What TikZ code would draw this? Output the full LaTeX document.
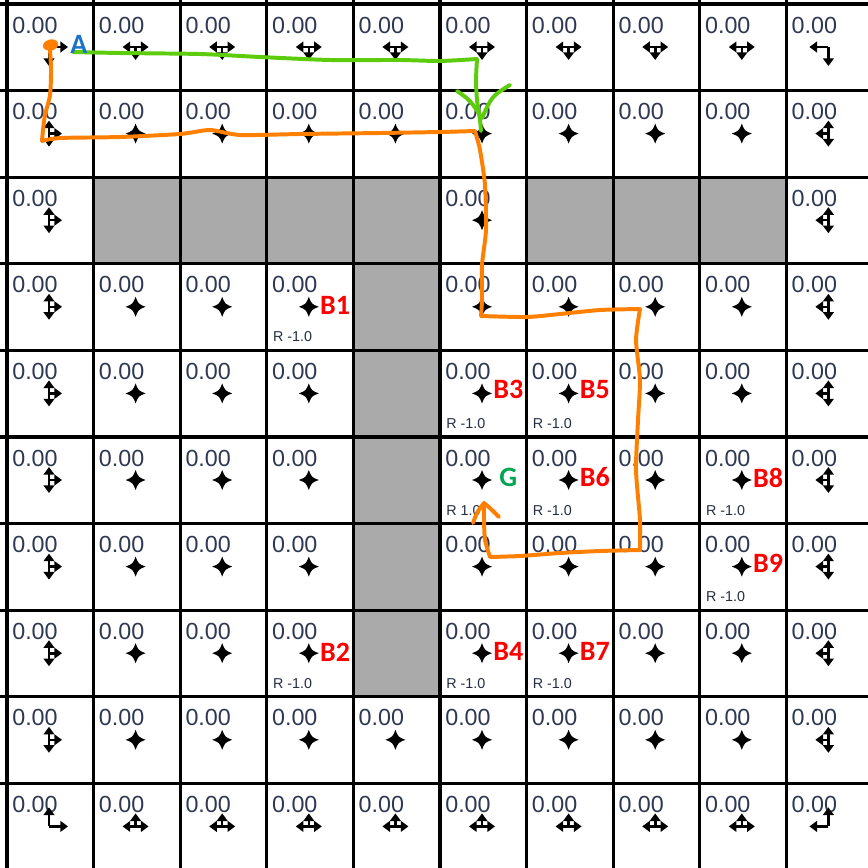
\documentclass[tikz,border=0pt]{standalone}
\usepackage{fontspec}
\setmainfont{Liberation Sans}
\newfontfamily\lblfont{Carlito}
\usetikzlibrary{arrows.meta}
\definecolor{valcol}{HTML}{2E3852}
\definecolor{cellgray}{HTML}{AAAAAA}
\definecolor{pathorange}{HTML}{FF8000}
\definecolor{pathgreen}{HTML}{5DCC0C}
\definecolor{lblred}{HTML}{FF0000}
\definecolor{lblblue}{HTML}{1A73C8}
\definecolor{lblgreen}{HTML}{00A651}
\tikzset{
  valtxt/.style={anchor=base west,inner sep=0pt,text=valcol,font=\fontsize{15.3pt}{15.3pt}\selectfont},
  rtxt/.style={anchor=base west,inner sep=0pt,text=valcol!80!black,font=\fontsize{9.4pt}{9.4pt}\selectfont},
  blbl/.style={anchor=base west,inner sep=0pt,text=lblred,font=\lblfont\bfseries\fontsize{18.4pt}{18.4pt}\selectfont},
  arw/.style={line width=1.7pt,-{Triangle[length=5pt,width=7pt]}},
  gridline/.style={line width=2pt,black},
  handorange/.style={line width=2.6pt,pathorange,line cap=round,line join=round},
  handgreen/.style={line width=2.6pt,pathgreen,line cap=round,line join=round},
}
\newcommand\glyphstar[1]{%
  \fill[shift={(#1)}] (10,0) .. controls (2.8,2.8) .. (0,10) .. controls (-2.8,2.8) .. (-10,0)
    .. controls (-2.8,-2.8) .. (0,-10) .. controls (2.8,-2.8) .. (10,0) -- cycle;}
% directions: R=(1,0), L=(-1,0), D=(0,1), U=(0,-1) in page pixels (y grows downward)
\newcommand\glypharrows[3]{%
  \foreach \dx/\dy in {#3}{\draw[arw] (#1) -- ++(#2*\dx,#2*\dy);}}
\begin{document}
\begin{tikzpicture}[x=0.02309cm,y=-0.02309cm]
\useasboundingbox (0,0) rectangle (868,868);
\clip (0,0) rectangle (868,868);
\fill[white] (0,0) rectangle (868,868);
% cells: values and glyphs
\foreach \r in {0,...,9}{
  \foreach \c in {0,...,9}{
    \pgfmathsetmacro\x{7+86.6*\c}
    \pgfmathsetmacro\y{4+86.6*\r}
    \node[valtxt] (v-\r-\c) at (\x+5,\y+29) {0.00};
    \coordinate (m-\r-\c) at (\x+42,\y+43);
    \ifnum\r=0
      \ifnum\c=0 \glypharrows{m-\r-\c}{19}{1/0,0/1}%
      \else\ifnum\c=9 \glypharrows{m-\r-\c}{19}{-1/0,0/1}%
      \else \glypharrows{m-\r-\c}{13}{-1/0,1/0,0/1}\fi\fi
    \else\ifnum\r=9
      \ifnum\c=0 \glypharrows{m-\r-\c}{19}{0/-1,1/0}%
      \else\ifnum\c=9 \glypharrows{m-\r-\c}{19}{0/-1,-1/0}%
      \else \glypharrows{m-\r-\c}{13}{-1/0,1/0,0/-1}\fi\fi
    \else
      \ifnum\c=0 \glypharrows{m-\r-\c}{13}{0/-1,0/1,1/0}%
      \else\ifnum\c=9 \glypharrows{m-\r-\c}{13}{0/-1,0/1,-1/0}%
      \else \glyphstar{m-\r-\c}\fi\fi
    \fi\fi
  }
}
% gray blocked cells
\foreach \r/\c in {2/1,2/2,2/3,2/4,2/6,2/7,2/8,3/4,4/4,5/4,6/4,7/4}{
  \fill[cellgray] (7+86.6*\c,4+86.6*\r) rectangle ++(86.6,86.6);
}
% reward texts
\foreach \r/\c/\t in {3/3/R -1.0,7/3/R -1.0,4/5/R -1.0,4/6/R -1.0,5/5/R 1.0,5/6/R -1.0,5/8/R -1.0,6/8/R -1.0,7/5/R -1.0,7/6/R -1.0}{
  \node[rtxt] (rw-\r-\c) at (7+86.6*\c+6,4+86.6*\r+78) {\t};
}
% grid lines
\foreach \i in {0,...,10}{
  \draw[gridline] (7+86.6*\i,0) -- (7+86.6*\i,880);
  \draw[gridline] (0,4+86.6*\i) -- (880,4+86.6*\i);
}
% labels
\foreach \r/\c/\t/\dy in {3/3/B1/51,7/3/B2/51,4/5/B3/48,7/5/B4/50,4/6/B5/48,5/6/B6/49,7/6/B7/50,5/8/B8/50,6/8/B9/49}{
  \node[blbl] (lbl-\t) at (7+86.6*\c+53,4+86.6*\r+\dy) {\t};
}
\node[blbl,text=lblgreen] (lbl-G) at (7+86.6*5+59,4+86.6*5+49) {G};
% hand-drawn paths
\coordinate (ostart) at (50,50);
\coordinate (oend) at (484,503);
\coordinate (gstart) at (73,52);
\coordinate (gend) at (481,131);
\fill[pathorange] (43,47) .. controls (42,40) and (55,36) .. (58,43) .. controls (60,50) and (46,54) .. (43,47) -- cycle;
\draw[handorange] plot[smooth,tension=0.5] coordinates {(ostart) (51,70) (50,95) (45,115) (43,130) (42,141)};
\draw[handorange] plot[smooth,tension=0.4] coordinates {(42,141) (60,138) (120,137) (180,134) (210,130) (240,135) (300,134) (380,133) (440,132) (475,131)};
\draw[handorange] plot[smooth,tension=0.4] coordinates {(475,131) (480,150) (485,185) (486,230) (482,265) (482,300) (481,316)};
\draw[handorange] plot[smooth,tension=0.4] coordinates {(481,316) (527,317) (560,314) (600,310) (640,309)};
\draw[handorange] plot[smooth,tension=0.4] coordinates {(640,309) (636,340) (640,380) (638,420) (636,470) (640,520) (640,550)};
\draw[handorange] plot[smooth,tension=0.4] coordinates {(640,550) (600,551) (560,553) (520,556) (490,557)};
\draw[handorange] plot[smooth,tension=0.4] coordinates {(490,557) (485,540) (484,520) (oend)};
\draw[handorange] (473,523) .. controls (477,512) .. (oend) .. controls (490,508) .. (499,517);
\draw[handgreen] plot[smooth,tension=0.4] coordinates {(gstart) (120,53) (200,54) (260,57) (330,60) (400,60) (440,61) (477,59)};
\draw[handgreen] plot[smooth,tension=0.4] coordinates {(477,59) (476,80) (477,100) (480,120) (gend)};
\draw[handgreen] (457,91) .. controls (470,100) .. (482,118);
\draw[handgreen] (510,85) .. controls (492,96) .. (482,118);
\node[blbl,text=lblblue] (lbl-A) at (70,53) {A};
\end{tikzpicture}
\end{document}
